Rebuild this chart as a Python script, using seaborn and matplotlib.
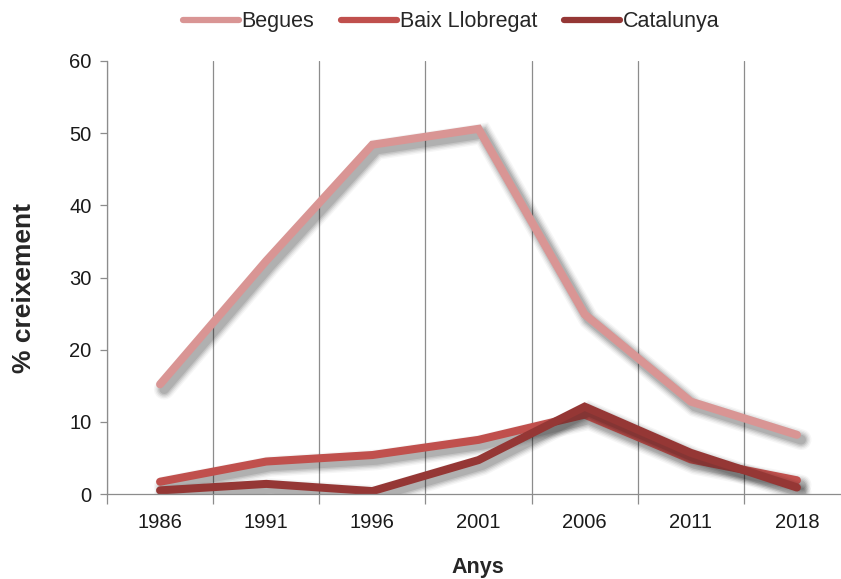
import matplotlib
matplotlib.use("Agg")
import matplotlib.pyplot as plt
import matplotlib.patheffects as pe
import numpy as np
import pandas as pd
import seaborn as sns

# Population growth (%) by five-year period
years = ["1986", "1991", "1996", "2001", "2006", "2011", "2018"]
begues = [15.2, 32.3, 48.4, 50.6, 24.9, 12.8, 8.2]
baix_llobregat = [1.7, 4.5, 5.4, 7.5, 11.0, 4.8, 1.9]
catalunya = [0.5, 1.4, 0.4, 4.7, 12.1, 5.7, 0.9]

series_names = ["Begues", "Baix Llobregat", "Catalunya"]
series_colors = ["#D99594", "#C0504D", "#953735"]

df = pd.DataFrame({
    "Anys": years * 3,
    "valor": begues + baix_llobregat + catalunya,
    "serie": [n for n in series_names for _ in years],
})

sns.set_theme(style="white")
plt.rcParams["font.family"] = ["Liberation Sans", "DejaVu Sans"]

fig = plt.figure(figsize=(8.41, 5.79), dpi=100)
W, H = 841, 579
left_px, right_px, top_px, bottom_px = 107, 850, 61, 494
ax = fig.add_axes([left_px / W, 1 - bottom_px / H,
                   (right_px - left_px) / W, (bottom_px - top_px) / H])

sns.lineplot(data=df, x="Anys", y="valor", hue="serie", hue_order=series_names,
             palette=series_colors, linewidth=5.8, sort=False, ax=ax,
             legend=False)

# soft drop shadow under each line
shadow = [pe.SimpleLineShadow(offset=(3, -3.5), shadow_color="black",
                              alpha=a, linewidth=w)
          for a, w in ((0.035, 15), (0.05, 13), (0.07, 11), (0.09, 9), (0.1, 7))]
for line in ax.lines:
    line.set_solid_capstyle("round")
    line.set_solid_joinstyle("miter")
    line.set_path_effects(shadow + [pe.Normal()])

ax.set_xlim(-0.5, len(years) - 0.5)
ax.set_ylim(0, 60)
ax.set_yticks(np.arange(0, 61, 10))
ax.set_xticks(range(len(years)))
ax.set_xticklabels(years)
ax.set_xticks(np.arange(-0.5, len(years), 1.0), minor=True)

grey = "#8C8C8C"
ax.grid(False)
ax.grid(True, which="minor", axis="x", color=grey, linewidth=0.9)
ax.tick_params(axis="x", which="major", length=0, pad=14, labelsize=14.5,
               labelcolor="#1a1a1a")
ax.tick_params(axis="x", which="minor", length=7, color=grey, width=0.9,
               direction="out", bottom=True)
ax.tick_params(axis="y", length=5, color=grey, width=0.9, direction="out",
               left=True, labelsize=14.5, labelcolor="#1a1a1a", pad=6)

for side in ("top", "right"):
    ax.spines[side].set_visible(False)
for side in ("left", "bottom"):
    ax.spines[side].set_color(grey)
    ax.spines[side].set_linewidth(0.9)

ax.set_xlabel("Anys", fontsize=15.5, fontweight="bold")
ax.xaxis.set_label_coords((478 - left_px) / (right_px - left_px),
                          (bottom_px - 557) / (bottom_px - top_px))
ax.set_ylabel("% creixement", fontsize=19, fontweight="bold")
ax.yaxis.set_label_coords((36 - left_px) / (right_px - left_px),
                          (bottom_px - 288) / (bottom_px - top_px))

handles = [plt.Line2D([], [], color=c, linewidth=4.5, solid_capstyle="round")
           for c in series_colors]
fig.legend(handles, series_names, loc="center", bbox_to_anchor=(451 / W, 1 - 22 / H),
           ncol=3, frameon=False, fontsize=15.5, handlelength=2.6,
           handletextpad=0.12, columnspacing=1.25)

fig.savefig("out.png", dpi=100)
